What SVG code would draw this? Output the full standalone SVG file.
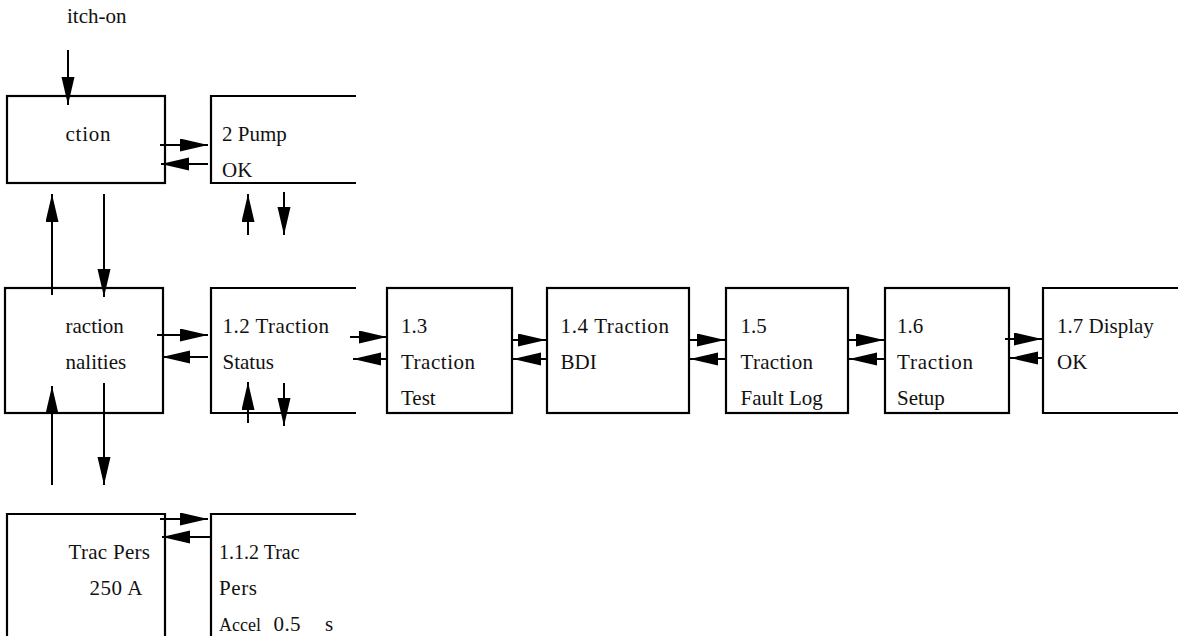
<svg xmlns="http://www.w3.org/2000/svg" width="1178" height="636" viewBox="0 0 1178 636">
  <style>
    .box { fill: none; stroke: #000; stroke-width: 2.2; }
    .lbl { font-family: 'Liberation Serif', 'Times New Roman', serif; font-size: 21px; fill: #111; }
    .sm { font-size: 20px; }
    .xs { font-size: 18px; }
    .conn line { stroke: #000; stroke-width: 2; marker-end: url(#head); }
  </style>
  <defs>
    <marker id="head" markerUnits="userSpaceOnUse" markerWidth="30" markerHeight="14" refX="28" refY="6.5" orient="auto">
      <path d="M0,0 L28,6.5 L0,13 z" fill="#000"/>
    </marker>
  </defs>
  <rect width="1178" height="636" fill="#fff"/>

  <text class="lbl" x="67" y="23">itch-on</text>

  <!-- top row -->
  <g id="node-traction">
    <rect class="box" x="7" y="96" width="158" height="87"/>
    <text class="lbl" x="65.5" y="141" textLength="45" lengthAdjust="spacing">ction</text>
  </g>
  <g id="node-pump-ok">
    <path class="box" d="M356,96 H211 V183 H356"/>
    <text class="lbl" x="222" y="141">2 Pump</text>
    <text class="lbl" x="222" y="177">OK</text>
  </g>

  <!-- middle row -->
  <g id="node-traction-functionalities">
    <rect class="box" x="5" y="288" width="158" height="125"/>
    <text class="lbl" x="65.5" y="333">raction</text>
    <text class="lbl" x="65.5" y="369">nalities</text>
  </g>
  <g id="node-1-2">
    <path class="box" d="M356,288 H211 V413 H356"/>
    <text class="lbl" x="222.5" y="333" textLength="106.5" lengthAdjust="spacing">1.2 Traction</text>
    <text class="lbl" x="222.5" y="369">Status</text>
  </g>
  <g id="node-1-3">
    <rect class="box" x="387" y="288" width="125" height="125"/>
    <text class="lbl" x="401" y="333">1.3</text>
    <text class="lbl" x="401" y="369" textLength="74" lengthAdjust="spacing">Traction</text>
    <text class="lbl" x="401" y="405">Test</text>
  </g>
  <g id="node-1-4">
    <rect class="box" x="547" y="288" width="142" height="125"/>
    <text class="lbl" x="560.5" y="333" textLength="108.5" lengthAdjust="spacing">1.4 Traction</text>
    <text class="lbl" x="560.5" y="369">BDI</text>
  </g>
  <g id="node-1-5">
    <rect class="box" x="726" y="288" width="122" height="125"/>
    <text class="lbl" x="740.5" y="333">1.5</text>
    <text class="lbl" x="740.5" y="369" textLength="72.5" lengthAdjust="spacing">Traction</text>
    <text class="lbl" x="740.5" y="405">Fault Log</text>
  </g>
  <g id="node-1-6">
    <rect class="box" x="885" y="288" width="124" height="125"/>
    <text class="lbl" x="897" y="333">1.6</text>
    <text class="lbl" x="897" y="369" textLength="76" lengthAdjust="spacing">Traction</text>
    <text class="lbl" x="897" y="405">Setup</text>
  </g>
  <g id="node-1-7">
    <path class="box" d="M1180,288 H1043 V413 H1180"/>
    <text class="lbl" x="1057" y="333">1.7 Display</text>
    <text class="lbl" x="1057" y="369">OK</text>
  </g>

  <!-- bottom row -->
  <g id="node-trac-pers">
    <path class="box" d="M7,640 V514 H165 V640"/>
    <text class="lbl" x="68.5" y="559" textLength="81.5" lengthAdjust="spacing">Trac Pers</text>
    <text class="lbl" x="89.5" y="595" textLength="53" lengthAdjust="spacing">250 A</text>
  </g>
  <g id="node-1-1-2">
    <path class="box" d="M356,514 H211 V640"/>
    <text class="lbl sm" x="219" y="559">1.1.2 Trac</text>
    <text class="lbl" x="219" y="595" textLength="38" lengthAdjust="spacing">Pers</text>
    <text class="lbl xs" x="219" y="631">Accel</text>
    <text class="lbl" x="273.5 284.5 290 300.5 325" y="631">0.5 s</text>
  </g>

  <g id="connectors" class="conn">
    <!-- vertical -->
    <line x1="68" y1="50" x2="68" y2="105"/>
    <line x1="52" y1="295" x2="52" y2="194"/>
    <line x1="104" y1="194" x2="104" y2="297"/>
    <line x1="248" y1="235" x2="248" y2="194"/>
    <line x1="284" y1="192" x2="284" y2="235"/>
    <line x1="52" y1="485" x2="52" y2="386"/>
    <line x1="104" y1="383" x2="104" y2="485"/>
    <line x1="248" y1="423" x2="248" y2="382"/>
    <line x1="284" y1="383" x2="284" y2="426"/>
    <!-- horizontal -->
    <line x1="160" y1="145" x2="208" y2="145"/>
    <line x1="208" y1="164" x2="161" y2="164"/>
    <line x1="157" y1="335" x2="208" y2="335"/>
    <line x1="208" y1="357" x2="162" y2="357"/>
    <line x1="160" y1="519" x2="208" y2="519"/>
    <line x1="211" y1="537" x2="162" y2="537"/>
    <line x1="350" y1="337" x2="387" y2="337"/>
    <line x1="387" y1="359" x2="353" y2="359"/>
    <line x1="512" y1="340" x2="546" y2="340"/>
    <line x1="547" y1="359" x2="513" y2="359"/>
    <line x1="689" y1="340" x2="725" y2="340"/>
    <line x1="726" y1="359" x2="690" y2="359"/>
    <line x1="848" y1="340" x2="884" y2="340"/>
    <line x1="885" y1="359" x2="849" y2="359"/>
    <line x1="1005" y1="339" x2="1042" y2="339"/>
    <line x1="1043" y1="358" x2="1010" y2="358"/>
  </g>
</svg>
